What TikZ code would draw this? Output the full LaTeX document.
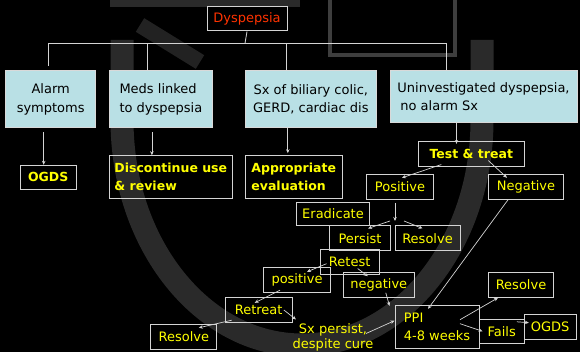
\documentclass[tikz,border=0pt]{standalone}
\usepackage{fontspec}
\setmainfont{DejaVu Sans}
\usetikzlibrary{arrows.meta}
\definecolor{slidebg}{HTML}{000000}
\definecolor{wmark}{HTML}{2A2A2A}
\definecolor{wmarkline}{HTML}{3E3E3E}
\definecolor{boxline}{HTML}{D4D4D4}
\definecolor{catfill}{HTML}{B9E0E5}
\definecolor{dysred}{HTML}{FF3300}
\definecolor{stepyellow}{HTML}{FFFF00}

\begin{document}
\begin{tikzpicture}[x=1pt, y=-1pt,
  root/.style={draw=boxline, line width=1pt, text=dysred,
               font=\fontsize{13}{16}\selectfont, inner sep=0pt,
               minimum width=80pt, minimum height=24pt},
  cat/.style={fill=catfill, draw=white!85!black, line width=1pt, text=black,
              font=\fontsize{13}{18.5}\selectfont, align=left, inner sep=0pt},
  act/.style={draw=boxline, line width=1pt, text=stepyellow,
              font=\fontsize{12.5}{18}\selectfont\bfseries, align=left, inner sep=0pt},
  lbl/.style={draw=boxline, line width=1pt, text=stepyellow,
              font=\fontsize{13}{18}\selectfont, align=left, inner sep=0pt},
  link/.style={draw=boxline, line width=0.8pt},
  arr/.style={-{Stealth[length=4pt,width=3.5pt]}, draw=boxline, line width=0.7pt},
  band/.style={draw=wmark, line width=23pt}
]
  \path[use as bounding box, fill=slidebg] (0,0) rectangle (580,352);

  % faint crest in the background
  \draw[band] (122,40) -- (122,120) arc[start angle=180, end angle=0, x radius=180, y radius=225] -- (482,40);
  \draw[draw=wmarkline, line width=4pt] (330,-5) rectangle (455,55);
  \draw[draw=wmark, line width=9pt] (110,3) -- (300,3);
  \draw[draw=wmark!80!black, line width=16pt] (140,25) -- (200,62);

  \node[root] (dys) at (247,19) {Dyspepsia};

  \node[cat, align=center, minimum width=89.5pt, minimum height=57.3pt] (alarm) at (50.7,99.3) {Alarm\\symptoms};
  \node[cat, minimum width=103.7pt, minimum height=57.3pt] (meds) at (160.9,99.3) {Meds linked\\to dyspepsia};
  \node[cat, align=center, minimum width=131.6pt, minimum height=57.3pt] (sx) at (310.8,99.3) {Sx of biliary colic,\\GERD, cardiac dis};
  \node[cat, minimum width=187pt, minimum height=52pt] (uninv) at (483.5,96.7) {Uninvestigated dyspepsia,\\\hspace{3pt}no alarm Sx};

  \node[act, minimum width=56.3pt, minimum height=24pt] (ogdsa) at (48.2,177.3) {OGDS};
  \node[act, minimum width=123pt, minimum height=42.6pt] (disc) at (170.8,177) {Discontinue use\\\& review};
  \node[act, minimum width=97.3pt, minimum height=42.6pt] (appr) at (293.7,177) {Appropriate\\evaluation};
  \node[act, minimum width=106pt, minimum height=24.7pt] (test) at (471.3,153.7) {Test \& treat};

  \node[lbl, minimum width=66.6pt, minimum height=25pt] (posa) at (400,186.8) {Positive};
  \node[lbl, minimum width=75.4pt, minimum height=25pt] (nega) at (526,186.8) {Negative};
  \node[lbl, minimum width=72.6pt, minimum height=22.6pt] (erad) at (333,214) {Eradicate};
  \node[lbl, minimum width=61.4pt, minimum height=24.7pt] (persist) at (360,238.3) {Persist};
  \node[lbl, minimum width=65pt, minimum height=24.7pt] (resa) at (427.5,238.3) {Resolve};
  \node[lbl, minimum width=59.3pt, minimum height=24.7pt] (retest) at (349.7,261.7) {Retest};
  \node[lbl, minimum width=67.4pt, minimum height=25.4pt] (posb) at (297,280) {positive};
  \node[lbl, minimum width=71pt, minimum height=24.6pt] (negb) at (378.8,285) {negative};
  \node[lbl, minimum width=84pt, minimum height=42.7pt] (ppi) at (437,326.7) {PPI\\4-8 weeks};
  \node[lbl, minimum width=65.4pt, minimum height=24.6pt] (resb) at (521,285) {Resolve};
  \node[lbl, minimum width=45.3pt, minimum height=24pt] (fails) at (501.7,331.3) {Fails};
  \node[lbl, minimum width=51.7pt, minimum height=24.7pt] (ogdsb) at (550.2,326.7) {OGDS};
  \node[lbl, minimum width=67.3pt, minimum height=25.4pt] (retreat) at (258.7,310) {Retreat};
  \node[lbl, minimum width=65.7pt, minimum height=25pt] (resc) at (183.8,336.8) {Resolve};
  \node[lbl, draw=none, align=center, font=\fontsize{13}{15.7}\selectfont] (sxp) at (333,337.5) {Sx persist,\\despite cure};

  % tree from the root
  \coordinate (bus) at (245,43.3);
  \draw[link] (dys.south) -- (bus);
  \draw[link] ([xshift=-2pt]alarm.north |- bus) -- ([xshift=-37pt]uninv.north |- bus);
  \draw[link] ([xshift=-2pt]alarm.north |- bus) -- ([xshift=-2pt,yshift=4pt]alarm.north);
  \draw[link] ([xshift=-14pt]meds.north |- bus) -- ([xshift=-14pt]meds.north);
  \draw[link] ([xshift=-24pt]sx.north |- bus) -- ([xshift=-24pt]sx.north);
  \draw[link] ([xshift=-37pt]uninv.north |- bus) -- ([xshift=-37pt]uninv.north);

  \draw[arr] ([xshift=-7pt,yshift=-4pt]alarm.south) -- ([xshift=-7pt]alarm.south |- ogdsa.north);
  \draw[arr] ([xshift=-9pt,yshift=-4pt]meds.south) -- ([xshift=-9pt]meds.south |- disc.north);
  \draw[arr] ([xshift=-23pt]sx.south) -- ([xshift=-23pt,yshift=2pt]sx.south |- appr.north);
  \draw[arr] ([xshift=-27pt]uninv.south) -- ([xshift=-27pt,yshift=-3pt]uninv.south |- test.north);

  % test and treat branch
  \draw[arr] ([xshift=-30pt,yshift=2pt]test.south) -- ([xshift=2pt,yshift=-4pt]posa.north);
  \draw[arr] ([xshift=17pt,yshift=6pt]test.south) -- ([xshift=-19pt,yshift=-4pt]nega.north);
  \coordinate (split) at (395,221);
  \draw[arr] ([yshift=-3pt]posa.south -| split) -- (split);
  \draw[arr] ([xshift=-5pt]split) -- ([xshift=8pt,yshift=-3pt]persist.north);
  \draw[arr] ([xshift=9pt]split) -- ([xshift=-5pt,yshift=-3pt]resa.north);
  \draw[arr] ([xshift=7pt,yshift=-2pt]retest.west) -- ([xshift=10pt,yshift=-5pt]posb.north);
  \draw[arr] ([xshift=8pt,yshift=6pt]retest.south) -- ([xshift=-11pt,yshift=-4pt]negb.north);
  \draw[arr] ([xshift=7pt,yshift=5pt]negb.south) -- ([xshift=-5pt,yshift=-1pt]ppi.north west);
  \draw[arr] ([xshift=-18pt]nega.south) -- ([xshift=-9pt,yshift=-4pt]ppi.north);
  \draw[arr] ([xshift=23pt,yshift=7pt]ppi.center) -- ([xshift=-23pt]resb.south);
  \draw[arr] ([xshift=23pt,yshift=3pt]ppi.center) -- ([xshift=4pt]fails.west);
  \draw[arr] ([xshift=-8pt,yshift=-3pt]fails.north east) -- ([xshift=5pt,yshift=4pt]ogdsb.west);
  \draw[arr] ([xshift=-17pt,yshift=3pt]posb.south) -- ([xshift=-4pt,yshift=-6pt]retreat.north);
  \draw[arr] ([xshift=-27pt,yshift=3pt]retreat.south) -- ([xshift=15pt,yshift=-4pt]resc.north);
  \draw[arr] ([xshift=-9pt]retreat.east) -- ([xshift=-37pt,yshift=18pt]sxp.center);
  \draw[arr] ([xshift=33pt,yshift=4pt]sxp.center) -- ([yshift=6pt]ppi.west);

\end{tikzpicture}
\end{document}
